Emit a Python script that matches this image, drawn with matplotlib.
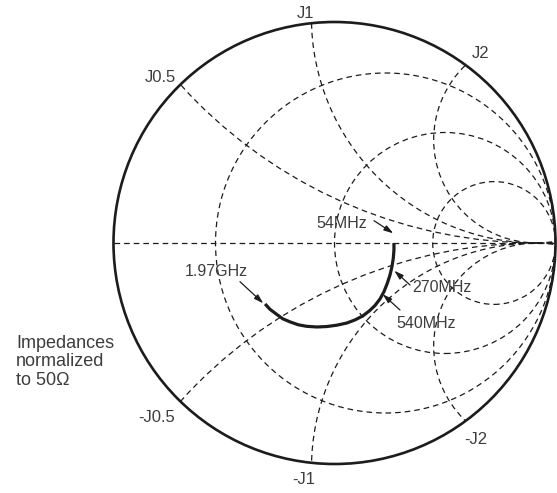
import numpy as np
import matplotlib
matplotlib.use("Agg")
import matplotlib.pyplot as plt
from matplotlib.patches import Circle

# --- chart values ---
# resistance circles of the grid (normalized r)
r_grid = [0.3, 1.0, 2.6]
# reactance arcs (as drawn, they meet a bit inside the rim)
x_grid = [0.46, 0.98, 2.14]
x_meet = 0.916
x_labels = ["J0.5", "J1", "J2"]
x_labels_neg = ["-J0.5", "-J1", "-J2"]

# measured impedance as reflection coefficient (real / imag), 54MHz -> 1.97GHz
gamma_re = [0.269, 0.269, 0.266, 0.260, 0.251, 0.239, 0.224, 0.206,
            0.183, 0.158, 0.128, 0.093, 0.056, 0.010, -0.035, -0.080,
            -0.126, -0.164, -0.201, -0.234, -0.264, -0.292, -0.314]
gamma_im = [0.000, -0.032, -0.069, -0.107, -0.145, -0.182, -0.220, -0.253,
            -0.283, -0.307, -0.330, -0.348, -0.362, -0.372, -0.378, -0.380,
            -0.377, -0.370, -0.357, -0.343, -0.321, -0.300, -0.276]
freq_labels = ["54MHz", "270MHz", "540MHz", "1.97GHz"]

# --- layout (pixel positions in the 557x493 picture) ---
W, H = 557, 493
CX, CY, R = 334.5, 243.0, 221.0

def px(x, y):
    # pixel position -> chart coordinates
    return ((x - CX) / R, (CY - y) / R)

label_pos = {"J0.5": (160, 77), "J1": (306, 13), "J2": (481, 54),
             "-J0.5": (157, 417), "-J1": (304, 479), "-J2": (476, 439)}
freq_text = {"54MHz": (342, 223), "270MHz": (442, 288),
             "540MHz": (426, 323), "1.97GHz": (216, 272)}
freq_arrow = {"54MHz": ((374, 220.7), (393.3, 233.3)),
              "270MHz": ((410, 285), (394.3, 270.7)),
              "540MHz": ((400, 310), (382.7, 294.3)),
              "1.97GHz": ((240, 281.7), (263.3, 303.3))}

ink = "#1c1c1c"
txt = "#3d3d3d"
dash = (0, (4.5, 3.2))

plt.rcParams["font.family"] = ["Liberation Sans", "DejaVu Sans"]

fig = plt.figure(figsize=(W / 100, H / 100), dpi=100)
ax = fig.add_axes([0, 0, 1, 1])
ax.set_xlim(-CX / R, (W - CX) / R)
ax.set_ylim((CY - H) / R, CY / R)
ax.set_aspect("equal")
ax.axis("off")

rim = Circle((0, 0), 1.0, fill=False, lw=1.9, color=ink, zorder=5)
ax.add_patch(rim)

# real axis
ax.plot([-1, 1], [0, 0], color=ink, lw=0.9, linestyle=dash, zorder=2)

# resistance circles
for r in r_grid:
    c = Circle((r / (1 + r), 0), 1 / (1 + r), fill=False, lw=0.9,
               color=ink, linestyle=dash, zorder=2)
    ax.add_patch(c)

# reactance arcs, clipped to the rim
clip = Circle((0, 0), 1.0, transform=ax.transData)
for xv in x_grid:
    for sgn in (1, -1):
        c = Circle((x_meet, sgn / xv), 1 / xv, fill=False, lw=0.9,
                   color=ink, linestyle=dash, zorder=2)
        ax.add_patch(c)
        c.set_clip_path(clip)

for lab in x_labels + x_labels_neg:
    ax.text(*px(*label_pos[lab]), lab, fontsize=12, color=txt,
            ha="center", va="center")

# impedance curve
ax.plot(gamma_re, gamma_im, color=ink, lw=2.3, solid_capstyle="butt",
        solid_joinstyle="round", zorder=6)

for lab in freq_labels:
    ax.text(*px(*freq_text[lab]), lab, fontsize=11.5, color=txt,
            ha="center", va="center", zorder=7)
    tail, tip = freq_arrow[lab]
    ax.annotate("", xy=px(*tip), xytext=px(*tail),
                arrowprops=dict(arrowstyle="-|>,head_length=0.55,head_width=0.17",
                                color=ink, lw=0.9, shrinkA=0, shrinkB=0),
                zorder=7)

ax.text(*px(16, 361.7), "Impedances\nnormalized\nto 50\u03a9", fontsize=13,
        color=txt, ha="left", va="center", linespacing=1.12)

fig.savefig("out.png", dpi=100)
